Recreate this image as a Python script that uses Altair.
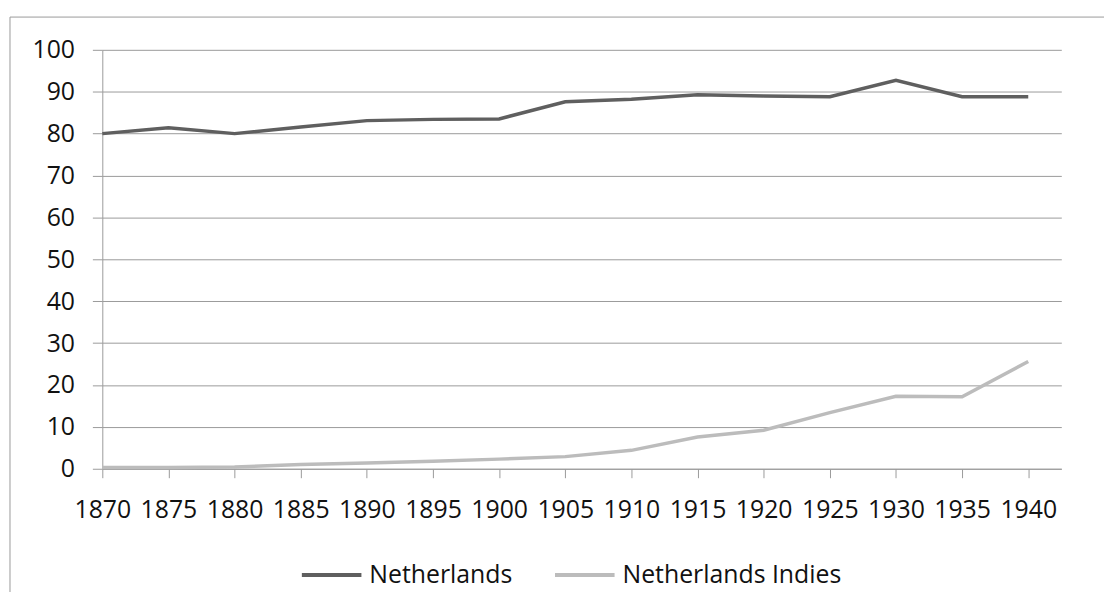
import altair as alt
import pandas as pd

years = [1870, 1875, 1880, 1885, 1890, 1895, 1900, 1905, 1910, 1915, 1920, 1925, 1930, 1935, 1940]
netherlands = [80.0, 81.4, 80.0, 81.6, 83.1, 83.4, 83.5, 87.6, 88.2, 89.3, 89.0, 88.8, 92.7, 88.8, 88.8]
indies = [0.3, 0.3, 0.4, 1.0, 1.4, 1.8, 2.3, 2.9, 4.4, 7.6, 9.2, 13.4, 17.3, 17.2, 25.6]
series = ["Netherlands", "Netherlands Indies"]
colors = ["#5f5f5f", "#bcbcbc"]
y_ticks = [0, 10, 20, 30, 40, 50, 60, 70, 80, 90, 100]

rows = []
for yr, v in zip(years, netherlands):
    rows.append({"Year": yr, "Value": v, "Series": series[0]})
for yr, v in zip(years, indies):
    rows.append({"Year": yr, "Value": v, "Series": series[1]})
df = pd.DataFrame(rows)

FONT = "Open Sans"
GRID = "#9a9a9a"

frame = alt.Chart(alt.Data(values=[{}])).mark_rect(
    filled=False, stroke=GRID, strokeWidth=1
).encode(
    x=alt.value(-93), x2=alt.value(1100),
    y=alt.value(-33), y2=alt.value(700)
)

lines = alt.Chart(df).mark_line(strokeWidth=3.5).encode(
    x=alt.X("Year:Q",
            scale=alt.Scale(domain=[1870, 1942.5], nice=False, zero=False),
            axis=alt.Axis(values=years, format="d", title=None, grid=False,
                          labelFont=FONT, labelFontSize=25, labelColor="#111111",
                          labelPadding=20, tickSize=9, tickColor=GRID,
                          domainColor=GRID, labelFlush=False)),
    y=alt.Y("Value:Q",
            scale=alt.Scale(domain=[0, 100], nice=False),
            axis=alt.Axis(values=y_ticks, title=None, grid=True, gridColor=GRID,
                          labelFont=FONT, labelFontSize=25, labelColor="#111111",
                          labelPadding=18, tickSize=10, tickColor=GRID,
                          domainColor=GRID)),
    color=alt.Color("Series:N",
                    scale=alt.Scale(domain=series, range=colors),
                    legend=alt.Legend(title=None, orient="none", direction="horizontal",
                                      legendX=199, legendY=497,
                                      symbolType="stroke", symbolSize=3600,
                                      symbolStrokeWidth=4,
                                      labelFont=FONT, labelFontSize=25,
                                      labelColor="#111111", labelOffset=6,
                                      labelLimit=400, columnPadding=34,
                                      padding=0)),
    order="Year:Q"
)

chart = alt.layer(frame, lines).properties(
    width=966, height=422,
    autosize=alt.AutoSizeParams(type="none"),
    padding={"left": 95, "top": 40, "right": 43, "bottom": 122},
    background="white"
).configure_view(stroke=None)

chart.save("out.html", embed_options={"renderer": "svg", "actions": False})
